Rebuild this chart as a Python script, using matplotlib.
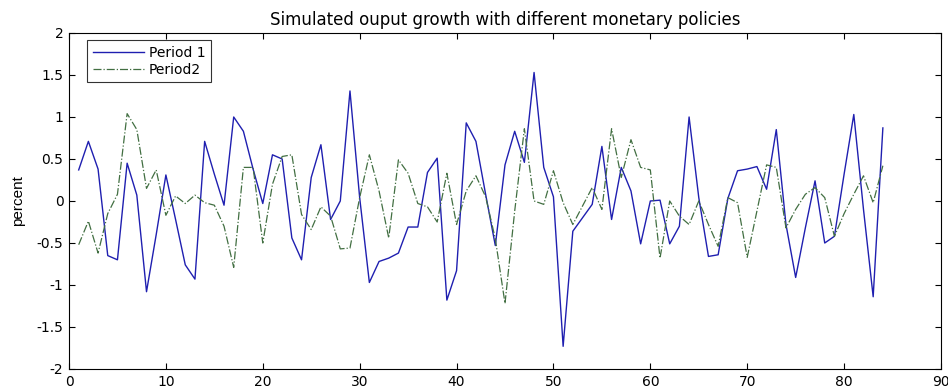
import matplotlib
matplotlib.use("Agg")
import matplotlib.pyplot as plt

plt.rcParams['font.family'] = ['DejaVu Sans']

periods = list(range(1, 85))

period1 = [0.37, 0.71, 0.38, -0.65, -0.70, 0.45, 0.07, -1.08, -0.40, 0.31,
           -0.22, -0.76, -0.93, 0.71, 0.32, -0.05, 1.00, 0.83, 0.38, -0.03,
           0.55, 0.50, -0.44, -0.70, 0.28, 0.67, -0.22, 0.00, 1.31, 0.04,
           -0.97, -0.72, -0.68, -0.62, -0.31, -0.31, 0.34, 0.51, -1.18, -0.83,
           0.93, 0.71, 0.08, -0.53, 0.43, 0.83, 0.46, 1.53, 0.40, 0.05,
           -1.73, -0.36, -0.20, -0.04, 0.65, -0.22, 0.40, 0.12, -0.51, 0.00,
           0.01, -0.51, -0.30, 1.00, 0.04, -0.66, -0.64, 0.03, 0.36, 0.38,
           0.41, 0.14, 0.85, -0.28, -0.91, -0.32, 0.24, -0.50, -0.42, 0.32,
           1.03, -0.10, -1.14, 0.87]

period2 = [-0.52, -0.24, -0.62, -0.15, 0.08, 1.04, 0.85, 0.15, 0.37, -0.17,
           0.06, -0.03, 0.07, -0.02, -0.05, -0.30, -0.79, 0.40, 0.40, -0.50,
           0.20, 0.53, 0.55, -0.16, -0.34, -0.07, -0.18, -0.57, -0.56, 0.04,
           0.55, 0.12, -0.44, 0.49, 0.33, -0.03, -0.07, -0.25, 0.33, -0.28,
           0.12, 0.30, 0.05, -0.45, -1.22, -0.12, 0.86, 0.00, -0.04, 0.36,
           -0.02, -0.28, -0.06, 0.16, -0.10, 0.86, 0.28, 0.73, 0.40, 0.37,
           -0.68, 0.00, -0.18, -0.28, 0.00, -0.28, -0.54, 0.04, -0.02, -0.67,
           -0.12, 0.43, 0.40, -0.32, -0.10, 0.08, 0.16, 0.04, -0.42, -0.15,
           0.08, 0.30, -0.02, 0.42]

xticks = [0, 10, 20, 30, 40, 50, 60, 70, 80, 90]
yticks = [-2, -1.5, -1, -0.5, 0, 0.5, 1, 1.5, 2]
ytick_labels = ['-2', '-1.5', '-1', '-0.5', '0', '0.5', '1', '1.5', '2']

fig = plt.figure(figsize=(9.48, 3.87), dpi=100)
ax = fig.add_axes([69/948, 1 - 369/387, (941-69)/948, (369-33)/387])

ax.plot(periods, period1, color='#1f1fb0', lw=1.0, label='Period 1')
ax.plot(periods, period2, color='#426f42', lw=0.9, ls='-.', label='Period2')

ax.set_xlim(0, 90)
ax.set_ylim(-2, 2)
ax.set_xticks(xticks)
ax.set_xticklabels([str(t) for t in xticks])
ax.set_yticks(yticks)
ax.set_yticklabels(ytick_labels)
ax.tick_params(direction='in', top=True, right=True, length=4, width=0.8,
               labelsize=10, pad=4)
for s in ax.spines.values():
    s.set_linewidth(0.8)

ax.set_title('Simulated ouput growth with different monetary policies',
             fontsize=12, pad=6)
ax.set_ylabel('percent', fontsize=11,
              family=['Liberation Sans Narrow', 'Liberation Sans', 'DejaVu Sans'])
ax.yaxis.set_label_coords(-0.050, 0.5)

leg = ax.legend(loc='upper left', bbox_to_anchor=(0.0206, 0.979), fontsize=10,
                frameon=True, fancybox=False, edgecolor='black',
                handlelength=3.7, handletextpad=0.36, borderpad=0.4,
                labelspacing=0.22, borderaxespad=0.0)
leg.get_frame().set_linewidth(0.8)

fig.savefig('out.png', dpi=100)
